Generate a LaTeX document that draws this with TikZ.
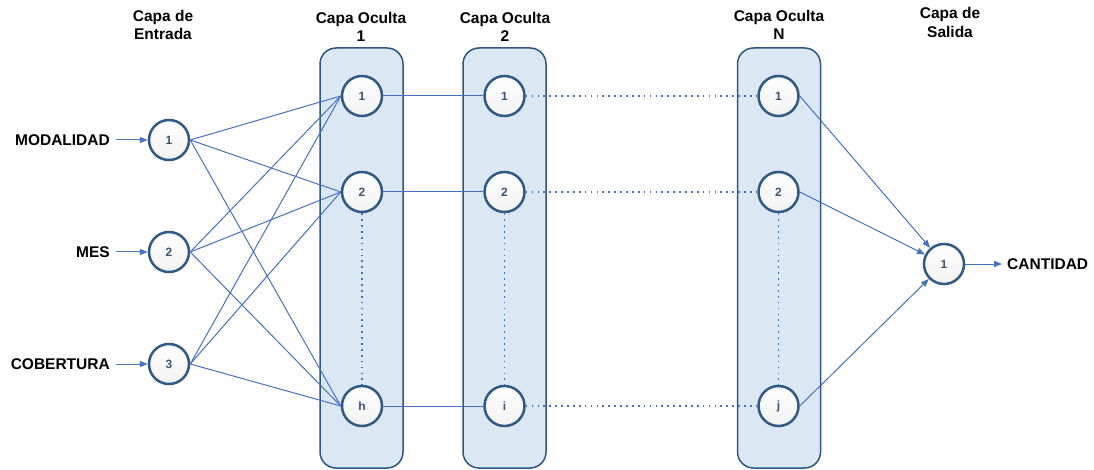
\documentclass[tikz,border=0pt]{standalone}
\usepackage{fontspec}
\setmainfont{Liberation Sans}
\usetikzlibrary{arrows.meta}
\definecolor{lineblue}{HTML}{4472C4}
\definecolor{rim}{HTML}{2F5A85}
\definecolor{panelfill}{HTML}{DCE7F4}
\definecolor{paneledge}{HTML}{2E5780}
\definecolor{numcol}{HTML}{3A5575}
\begin{document}
\begin{tikzpicture}[x=1pt,y=-1pt,
  neuron/.style={circle, draw=rim, line width=2.5pt, minimum size=40pt, inner sep=0pt,
    top color=white, bottom color=gray!10, font=\bfseries\fontsize{12}{13}\selectfont, text=numcol},
  panel/.style={draw=paneledge, line width=1.5pt, fill=panelfill, rounded corners=16pt,
    minimum width=83pt, minimum height=420pt, inner sep=0pt},
  title/.style={font=\bfseries\fontsize{15.5}{18.5}\selectfont, align=center, inner sep=0pt},
  lbl/.style={font=\bfseries\fontsize{15.5}{18.5}\selectfont, inner ysep=0pt},
  conn/.style={draw=lineblue, line width=1pt},
  arr/.style={conn, -{Triangle[length=8pt,width=6pt]}},
  dots/.style={draw=lineblue, line width=1.7pt, dash pattern=on 1.7pt off 4.2pt},
]
\useasboundingbox (0,0) rectangle (1094,470);

% titles
\node[title] (t0) at (163,25) {Capa de\\Entrada};
\node[title] (t1) at (361,27) {Capa Oculta\\1};
\node[title] (t2) at (505,27) {Capa Oculta\\2};
\node[title] (t3) at (779,25) {Capa Oculta\\N};
\node[title] (t4) at (950,22.5) {Capa de\\Salida};

% panels
\node[panel] (p1) at (361.5,258) {};
\node[panel] (p2) at (504.5,258) {};
\node[panel] (p3) at (779,258) {};

% neurons
\node[neuron] (i1) at (169,140) {1};
\node[neuron] (i2) at (169,252) {2};
\node[neuron] (i3) at (169,364) {3};
\node[neuron] (a1) at (362,96) {1};
\node[neuron] (a2) at (362,192) {2};
\node[neuron] (a3) at (362,406) {h};
\node[neuron] (b1) at (504.5,96) {1};
\node[neuron] (b2) at (504.5,192) {2};
\node[neuron] (b3) at (504.5,406) {i};
\node[neuron] (c1) at (778.5,96) {1};
\node[neuron] (c2) at (778.5,192) {2};
\node[neuron] (c3) at (778.5,406) {j};
\node[neuron] (out) at (944,264) {1};

% labels
\node[lbl, anchor=east, inner xsep=6pt] (lm) at (116,140) {MODALIDAD};
\node[lbl, anchor=east, inner xsep=6pt] (lmes) at (116,252) {MES};
\node[lbl, anchor=east, inner xsep=6pt] (lc) at (116,364) {COBERTURA};
\node[lbl, anchor=west, inner xsep=5pt] (lout) at (1002,264) {CANTIDAD};

% input arrows
\draw[arr] (lm.east) -- (i1.west);
\draw[arr] (lmes.east) -- (i2.west);
\draw[arr] (lc.east) -- (i3.west);

% input to hidden 1
\foreach \s in {i1,i2,i3}
  \foreach \t in {a1,a2,a3}
    \draw[conn] (\s.east) -- (\t.west);

% hidden 1 to hidden 2
\draw[conn] (a1.east) -- (b1.west);
\draw[conn] (a2.east) -- (b2.west);
\draw[conn] (a3.east) -- (b3.west);

% hidden 2 to hidden N
\draw[dots] (b1.east) -- (c1.west);
\draw[dots] (b2.east) -- (c2.west);
\draw[dots] (b3.east) -- (c3.west);

% vertical dots
\draw[dots] (a2.south) -- (a3.north);
\draw[dots] (b2.south) -- (b3.north);
\draw[dots] (c2.south) -- (c3.north);

% hidden N to output
\draw[arr] (c1.east) -- (out);
\draw[arr] (c2.east) -- (out);
\draw[arr] (c3.east) -- (out);
\draw[arr] (out.east) -- (lout.west);
\end{tikzpicture}
\end{document}
